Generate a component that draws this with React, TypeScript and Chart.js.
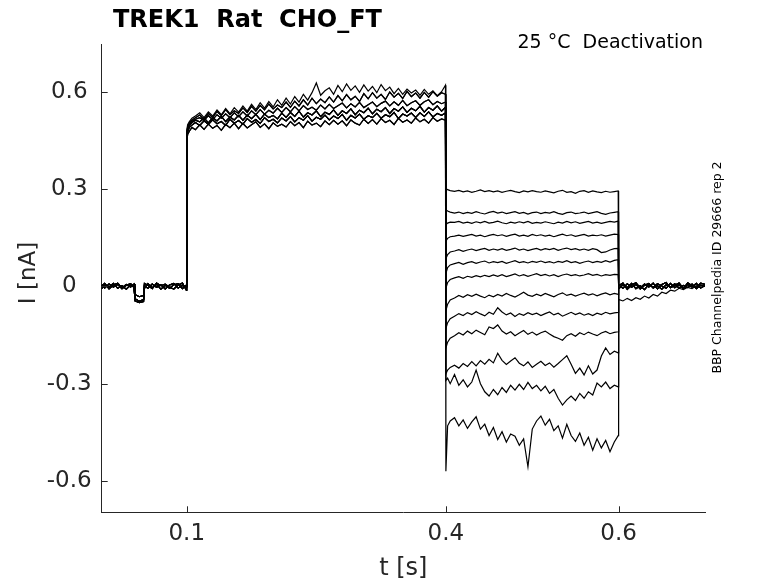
import { useEffect, useRef } from "react";
import { Chart, registerables } from "chart.js";

Chart.register(...registerables);

const TITLE = "TREK1  Rat  CHO_FT";
const SUBTITLE = "25 °C  Deactivation";
const SIDE_NOTE = "BBP Channelpedia ID 29666 rep 2";
const X_LABEL = "t [s]";
const Y_LABEL = "I [nA]";

const xTickValues = [0.1, 0.4, 0.6];
const yTickValues = [-0.6, -0.3, 0, 0.3, 0.6];
const X_MIN = 0.0015;
const X_MAX = 0.7;
const Y_MIN = -0.6965;
const Y_MAX = 0.747;

const AXIS_COLOR = "#262626";
const FONT = "DejaVu Sans";

// ---- sample times (s) ----
const preTimes = [0.0015, 0.005, 0.01, 0.015, 0.02, 0.025, 0.03, 0.035, 0.039, 0.04, 0.045, 0.05, 0.051, 0.055, 0.06, 0.065, 0.07, 0.075, 0.08, 0.085, 0.09, 0.095, 0.0995];
const actTimes = [
  0.1, 0.101, 0.103, 0.106, 0.11,
  0.115, 0.12, 0.125, 0.13, 0.135, 0.14, 0.145, 0.15, 0.155, 0.16,
  0.165, 0.17, 0.175, 0.18, 0.185, 0.19, 0.195, 0.2, 0.205, 0.21,
  0.215, 0.22, 0.225, 0.23, 0.235, 0.24, 0.245, 0.25, 0.255, 0.26,
  0.265, 0.27, 0.275, 0.28, 0.285, 0.29, 0.295, 0.3, 0.305, 0.31,
  0.315, 0.32, 0.325, 0.33, 0.335, 0.34, 0.345, 0.35, 0.355, 0.36,
  0.365, 0.37, 0.375, 0.38, 0.385, 0.39, 0.395,
  0.3995,
];
const tailTimes = [
  0.4, 0.402, 0.405,
  0.41, 0.415, 0.42, 0.425, 0.43, 0.435, 0.44, 0.445, 0.45, 0.455,
  0.46, 0.465, 0.47, 0.475, 0.48, 0.485, 0.49, 0.495, 0.5, 0.505,
  0.51, 0.515, 0.52, 0.525, 0.53, 0.535, 0.54, 0.545, 0.55, 0.555,
  0.56, 0.565, 0.57, 0.575, 0.58, 0.585, 0.59, 0.595,
  0.5995,
];
const postTimes = [0.6, 0.605, 0.61, 0.615, 0.62, 0.625, 0.63, 0.635, 0.64, 0.645, 0.65, 0.655, 0.66, 0.665, 0.67, 0.675, 0.68, 0.685, 0.69, 0.695, 0.7];

// ---- holding baseline (nA) ----
const pre1 = [0.004, -0.005, 0.007, -0.002, 0.006, -0.007, 0.003, 0.008, -0.004, -0.038, -0.046, -0.041, 0.002, -0.006, 0.007, -0.003, 0.005, -0.008, 0.004, 0.009, -0.005, 0.003, -0.002];
const pre2 = [-0.007, 0.006, -0.003, 0.009, -0.006, 0.002, -0.009, 0.005, 0.001, -0.045, -0.05, -0.047, -0.006, 0.008, -0.004, 0.006, -0.009, 0.003, -0.006, 0.005, 0.008, -0.007, 0.004];
const pre3 = [0.001, 0.009, -0.008, 0.004, 0.01, -0.004, 0.006, -0.002, 0.007, -0.025, -0.032, -0.028, 0.009, 0.003, -0.007, 0.01, 0.002, 0.007, -0.003, -0.008, 0.004, 0.01, -0.012];

// ---- activation step (nA) ----
const act1 = [
  0.44, 0.468, 0.478, 0.49, 0.483,
  0.498, 0.484, 0.5, 0.487, 0.496, 0.481, 0.499, 0.489, 0.503, 0.486,
  0.502, 0.488, 0.498, 0.507, 0.49, 0.501, 0.486, 0.504, 0.493, 0.5,
  0.491, 0.508, 0.495, 0.505, 0.489, 0.509, 0.497, 0.503, 0.492, 0.51,
  0.498, 0.512, 0.5, 0.51, 0.495, 0.513, 0.503, 0.497, 0.515, 0.502,
  0.514, 0.5, 0.517, 0.505, 0.512, 0.499, 0.518, 0.506, 0.513, 0.503,
  0.519, 0.507, 0.515, 0.503, 0.52, 0.509, 0.516,
  0.512,
];
const act2 = [
  0.45, 0.476, 0.49, 0.497, 0.505,
  0.496, 0.51, 0.499, 0.513, 0.501, 0.508, 0.496, 0.515, 0.503, 0.511,
  0.5, 0.517, 0.506, 0.514, 0.502, 0.52, 0.508, 0.515, 0.504, 0.519,
  0.51, 0.523, 0.507, 0.52, 0.512, 0.526, 0.509, 0.521, 0.515, 0.528,
  0.513, 0.525, 0.517, 0.53, 0.512, 0.527, 0.519, 0.531, 0.515, 0.526,
  0.52, 0.533, 0.518, 0.529, 0.523, 0.536, 0.517, 0.531, 0.525, 0.534,
  0.521, 0.535, 0.524, 0.538, 0.522, 0.533, 0.527,
  0.534,
];
const act3 = [
  0.46, 0.484, 0.496, 0.505, 0.512,
  0.507, 0.519, 0.504, 0.52, 0.51, 0.524, 0.508, 0.522, 0.513, 0.527,
  0.512, 0.528, 0.517, 0.53, 0.514, 0.531, 0.52, 0.527, 0.516, 0.534,
  0.521, 0.536, 0.524, 0.54, 0.522, 0.535, 0.528, 0.541, 0.523, 0.537,
  0.53, 0.544, 0.527, 0.541, 0.533, 0.547, 0.529, 0.543, 0.535, 0.549,
  0.532, 0.546, 0.538, 0.551, 0.533, 0.548, 0.54, 0.553, 0.536, 0.549,
  0.541, 0.555, 0.537, 0.551, 0.543, 0.556, 0.54,
  0.552,
];
const act4 = [
  0.465, 0.488, 0.5, 0.508, 0.515,
  0.52, 0.511, 0.526, 0.514, 0.529, 0.518, 0.532, 0.52, 0.535, 0.523,
  0.538, 0.525, 0.541, 0.529, 0.545, 0.531, 0.543, 0.534, 0.549, 0.536,
  0.551, 0.538, 0.554, 0.541, 0.557, 0.545, 0.552, 0.543, 0.559, 0.547,
  0.561, 0.548, 0.557, 0.565, 0.55, 0.563, 0.553, 0.567, 0.551, 0.56,
  0.568, 0.554, 0.564, 0.571, 0.556, 0.569, 0.558, 0.573, 0.557, 0.566,
  0.572, 0.558, 0.569, 0.575, 0.56, 0.57, 0.563,
  0.568,
];
const act5 = [
  0.47, 0.492, 0.503, 0.512, 0.52,
  0.528, 0.514, 0.533, 0.52, 0.539, 0.526, 0.545, 0.529, 0.541, 0.533,
  0.55, 0.536, 0.555, 0.54, 0.558, 0.544, 0.562, 0.547, 0.559, 0.551,
  0.568, 0.552, 0.571, 0.556, 0.575, 0.559, 0.58, 0.563, 0.577, 0.566,
  0.584, 0.568, 0.588, 0.572, 0.591, 0.575, 0.586, 0.57, 0.594, 0.578,
  0.597, 0.58, 0.592, 0.576, 0.599, 0.583, 0.595, 0.579, 0.601, 0.585,
  0.596, 0.58, 0.598, 0.583, 0.6, 0.586, 0.597,
  0.592,
];
const act6 = [
  0.48, 0.498, 0.508, 0.518, 0.525,
  0.535, 0.52, 0.538, 0.525, 0.544, 0.529, 0.548, 0.532, 0.551, 0.537,
  0.556, 0.54, 0.561, 0.545, 0.566, 0.549, 0.57, 0.553, 0.575, 0.558,
  0.58, 0.562, 0.585, 0.568, 0.592, 0.574, 0.597, 0.627, 0.589, 0.603,
  0.612, 0.592, 0.619, 0.6, 0.624, 0.604, 0.618, 0.598, 0.621, 0.602,
  0.616, 0.597, 0.622, 0.603, 0.614, 0.594, 0.61, 0.592, 0.608, 0.596,
  0.605, 0.589, 0.607, 0.592, 0.603, 0.588, 0.6,
  0.62,
];

// ---- deactivation tails (nA), one per sweep ----
const tail1 = [
  0.302, 0.298, 0.295,
  0.293, 0.296, 0.291, 0.294, 0.29, 0.293, 0.297, 0.292, 0.295, 0.291,
  0.294, 0.29, 0.293, 0.296, 0.292, 0.289, 0.294, 0.291, 0.295, 0.292,
  0.29, 0.294, 0.291, 0.288, 0.293, 0.296, 0.29, 0.292, 0.287, 0.293,
  0.295, 0.29, 0.294, 0.291, 0.289, 0.293, 0.29, 0.292,
  0.294,
];
const tail2 = [
  0.236, 0.232, 0.229,
  0.226, 0.229, 0.224, 0.228, 0.225, 0.23, 0.226, 0.223, 0.228, 0.231,
  0.226, 0.229, 0.224, 0.227, 0.23, 0.225, 0.228, 0.223, 0.227, 0.229,
  0.224, 0.228, 0.226, 0.23, 0.225, 0.222, 0.227, 0.229, 0.224, 0.226,
  0.229, 0.224, 0.227, 0.23, 0.225, 0.222, 0.226, 0.228,
  0.23,
];
const tail3 = [
  0.19, 0.195, 0.198,
  0.197, 0.2, 0.195, 0.198, 0.194, 0.199, 0.196, 0.2, 0.195, 0.197,
  0.201, 0.196, 0.193, 0.198, 0.195, 0.199, 0.196, 0.2, 0.194, 0.197,
  0.195, 0.199, 0.196, 0.193, 0.198, 0.195, 0.2, 0.196, 0.199, 0.194,
  0.197, 0.2, 0.195, 0.198, 0.194, 0.197, 0.2, 0.198,
  0.201,
];
const tail4 = [
  0.14, 0.148, 0.153,
  0.155, 0.158, 0.154, 0.157, 0.16, 0.155, 0.158, 0.153, 0.157, 0.16,
  0.156, 0.159, 0.154, 0.158, 0.161, 0.155, 0.158, 0.154, 0.16, 0.156,
  0.159, 0.155, 0.158, 0.153, 0.157, 0.161, 0.156, 0.159, 0.154, 0.157,
  0.16, 0.155, 0.158, 0.156, 0.159, 0.155, 0.158, 0.161,
  0.16,
];
const tail5 = [
  0.085, 0.098, 0.106,
  0.109, 0.113, 0.108, 0.112, 0.115, 0.11, 0.114, 0.117, 0.111, 0.115,
  0.112, 0.116, 0.111, 0.114, 0.118, 0.112, 0.115, 0.11, 0.114, 0.117,
  0.112, 0.116, 0.113, 0.117, 0.111, 0.115, 0.118, 0.113, 0.116, 0.112,
  0.115, 0.111, 0.116, 0.113, 0.104, 0.106, 0.112, 0.116,
  0.117,
];
const tail6 = [
  0.04, 0.058, 0.066,
  0.07, 0.074, 0.068, 0.073, 0.076, 0.071, 0.075, 0.078, 0.072, 0.076,
  0.073, 0.077, 0.071, 0.075, 0.079, 0.073, 0.076, 0.072, 0.077, 0.074,
  0.078, 0.073, 0.076, 0.072, 0.077, 0.074, 0.079, 0.073, 0.076, 0.071,
  0.075, 0.078, 0.073, 0.077, 0.074, 0.079, 0.075, 0.08,
  0.082,
];
const tail7 = [
  -0.005, 0.012, 0.021,
  0.026, 0.03, 0.025, 0.031, 0.028, 0.033, 0.029, 0.034, 0.03, 0.035,
  0.031, 0.036, 0.03, 0.034, 0.038, 0.032, 0.036, 0.031, 0.035, 0.039,
  0.033, 0.037, 0.032, 0.036, 0.03, 0.035, 0.038, 0.033, 0.036, 0.032,
  0.035, 0.039, 0.034, 0.037, 0.032, 0.036, 0.034, 0.037,
  0.036,
];
const tail8 = [
  -0.075, -0.055, -0.042,
  -0.036, -0.028, -0.034, -0.026, -0.031, -0.024, -0.03, -0.035, -0.027, -0.032,
  -0.025, -0.03, -0.022, -0.028, -0.033, -0.026, -0.018, -0.027, -0.031, -0.024,
  -0.029, -0.022, -0.027, -0.032, -0.025, -0.02, -0.028, -0.024, -0.03, -0.025,
  -0.021, -0.027, -0.023, -0.029, -0.024, -0.02, -0.026, -0.022,
  -0.025,
];
const tail9 = [
  -0.13, -0.112, -0.1,
  -0.092, -0.084, -0.09, -0.081, -0.087, -0.078, -0.085, -0.091, -0.08, -0.086,
  -0.066, -0.079, -0.088, -0.082, -0.093, -0.084, -0.089, -0.081, -0.087, -0.083,
  -0.09, -0.084, -0.079, -0.088, -0.083, -0.092, -0.086, -0.08, -0.087, -0.082,
  -0.089, -0.084, -0.09, -0.083, -0.087, -0.08, -0.085, -0.082,
  -0.08,
];
const tail10 = [
  -0.19, -0.172, -0.16,
  -0.152, -0.143, -0.15, -0.138, -0.146, -0.135, -0.142, -0.149, -0.125, -0.13,
  -0.119, -0.138, -0.147, -0.14, -0.152, -0.144, -0.136, -0.148, -0.141, -0.15,
  -0.143, -0.138, -0.147, -0.155, -0.16, -0.166, -0.152, -0.146, -0.154, -0.143,
  -0.149, -0.141, -0.147, -0.152, -0.144, -0.139, -0.146, -0.142,
  -0.14,
];
const tail11 = [
  -0.27, -0.258, -0.25,
  -0.243, -0.252, -0.238, -0.247, -0.232, -0.245, -0.229, -0.24, -0.225, -0.236,
  -0.206, -0.228, -0.241, -0.23, -0.22, -0.237, -0.245, -0.233, -0.25, -0.24,
  -0.231, -0.244, -0.236, -0.249, -0.238, -0.226, -0.214, -0.24, -0.268, -0.252,
  -0.273, -0.245, -0.27, -0.258, -0.215, -0.19, -0.21, -0.2,
  -0.205,
];
const tail12 = [
  -0.29, -0.283, -0.3,
  -0.272, -0.305, -0.288, -0.31, -0.295, -0.258, -0.3, -0.325, -0.338, -0.318,
  -0.334, -0.312, -0.327, -0.305, -0.32, -0.302, -0.318, -0.296, -0.315, -0.305,
  -0.322, -0.308, -0.33, -0.318, -0.345, -0.366, -0.35, -0.338, -0.352, -0.33,
  -0.345, -0.325, -0.335, -0.298, -0.31, -0.295, -0.315, -0.305,
  -0.31,
];
const tail13 = [
  -0.57, -0.43, -0.415,
  -0.405, -0.43, -0.412, -0.438, -0.418, -0.402, -0.44, -0.425, -0.46, -0.435,
  -0.472, -0.448, -0.48, -0.455, -0.462, -0.49, -0.47, -0.556, -0.44, -0.415,
  -0.4, -0.428, -0.41, -0.445, -0.43, -0.468, -0.425, -0.46, -0.478, -0.452,
  -0.49, -0.465, -0.505, -0.47, -0.498, -0.475, -0.51, -0.48,
  -0.46,
];

// ---- return to holding (nA) ----
const post1 = [0.004, -0.006, 0.008, -0.003, 0.006, -0.008, 0.003, 0.009, -0.005, 0.002, -0.009, 0.005, -0.002, 0.008, -0.006, 0.003, -0.004, 0.007, -0.007, 0.004, 0.001];
const post2 = [-0.008, 0.005, -0.004, 0.009, -0.007, 0.002, -0.01, 0.006, -0.003, 0.008, 0.001, -0.006, 0.009, -0.004, 0.005, -0.008, 0.006, -0.002, 0.009, -0.005, 0.003];
const post3 = [0.002, 0.01, -0.009, 0.004, 0.011, -0.005, 0.007, -0.002, 0.01, -0.008, 0.006, 0.012, -0.004, 0.003, 0.01, -0.007, 0.011, 0.002, -0.003, 0.01, 0.006];
const postSlow = [-0.04, -0.045, -0.037, -0.044, -0.035, -0.04, -0.03, -0.036, -0.025, -0.03, -0.018, -0.022, -0.012, -0.015, -0.006, -0.01, -0.003, -0.007, 0.002, -0.004, 0.001];

// ---- sweep composition ----
const sweepPre = [pre1, pre2, pre3, pre1, pre2, pre3, pre1, pre2, pre3, pre1, pre2, pre3, pre1];
const sweepAct = [act3, act1, act4, act2, act5, act3, act6, act2, act4, act1, act5, act3, act2];
const sweepTail = [tail1, tail2, tail3, tail4, tail5, tail6, tail7, tail8, tail9, tail10, tail11, tail12, tail13];
const sweepPost = [post1, post2, post3, post1, post2, post3, post1, post2, post3, post1, post2, post3, postSlow];

const decorPlugin = {
  id: "decor",
  afterDraw(chart: any) {
    const ctx = chart.ctx as CanvasRenderingContext2D;
    const { left, bottom } = chart.chartArea;
    const xs = chart.scales.x;
    const ys = chart.scales.y;
    ctx.save();
    // inward tick marks
    ctx.strokeStyle = AXIS_COLOR;
    ctx.lineWidth = 1;
    ctx.beginPath();
    for (const v of xTickValues) {
      const px = Math.round(xs.getPixelForValue(v)) + 0.5;
      ctx.moveTo(px, bottom);
      ctx.lineTo(px, bottom - 6);
    }
    for (const v of yTickValues) {
      const py = Math.round(ys.getPixelForValue(v)) + 0.5;
      ctx.moveTo(left, py);
      ctx.lineTo(left + 6, py);
    }
    ctx.stroke();

    // title
    ctx.fillStyle = "#000";
    ctx.textBaseline = "alphabetic";
    ctx.textAlign = "left";
    ctx.font = `bold 24px "${FONT}"`;
    ctx.fillText(TITLE, 113, 27);

    // subtitle
    ctx.textAlign = "right";
    ctx.font = `19px "${FONT}"`;
    ctx.fillText(SUBTITLE, 703, 48);

    // axis labels
    ctx.fillStyle = AXIS_COLOR;
    ctx.textAlign = "center";
    ctx.font = `24px "${FONT}"`;
    ctx.fillText(X_LABEL, (xs.left + xs.right) / 2, 575);
    ctx.save();
    ctx.translate(35, 273);
    ctx.rotate(-Math.PI / 2);
    ctx.font = `23px "${FONT}"`;
    ctx.fillText(Y_LABEL, 0, 0);
    ctx.restore();

    // side note
    ctx.fillStyle = "#000";
    ctx.font = `12.5px "${FONT}"`;
    ctx.save();
    ctx.translate(721, 267.5);
    ctx.rotate(-Math.PI / 2);
    ctx.fillText(SIDE_NOTE, 0, 0);
    ctx.restore();

    ctx.restore();
  },
};

export default function App() {
  const canvasRef = useRef<HTMLCanvasElement>(null);

  useEffect(() => {
    const datasets = sweepTail.map((tail, k) => ({
      data: [
        ...preTimes.map((t, j) => ({ x: t, y: sweepPre[k][j] })),
        ...actTimes.map((t, j) => ({ x: t, y: sweepAct[k][j] })),
        ...tailTimes.map((t, j) => ({ x: t, y: tail[j] })),
        ...postTimes.map((t, j) => ({ x: t, y: sweepPost[k][j] })),
      ],
      borderColor: "#000",
      borderWidth: 1.2,
      pointRadius: 0,
      fill: false,
      tension: 0,
    }));

    const chart = new Chart(canvasRef.current as HTMLCanvasElement, {
      type: "line",
      data: { datasets },
      options: {
        animation: false,
        responsive: true,
        maintainAspectRatio: false,
        events: [],
        layout: { padding: { top: 44, right: 73, left: 0, bottom: 0 } },
        plugins: {
          legend: { display: false },
          tooltip: { enabled: false },
          title: { display: false },
        },
        scales: {
          x: {
            type: "linear",
            min: X_MIN,
            max: X_MAX,
            afterBuildTicks: (s: any) => {
              s.ticks = xTickValues.map((v) => ({ value: v }));
            },
            afterFit: (s: any) => {
              s.height = 583 - 512.3;
            },
            grid: { display: false, drawTicks: false },
            border: { display: true, color: AXIS_COLOR, width: 1 },
            ticks: {
              color: AXIS_COLOR,
              font: { family: FONT, size: 23 },
              padding: 8,
              maxRotation: 0,
              autoSkip: false,
              callback: (v: any) => String(v),
            },
          },
          y: {
            type: "linear",
            min: Y_MIN,
            max: Y_MAX,
            afterBuildTicks: (s: any) => {
              s.ticks = yTickValues.map((v) => ({ value: v }));
            },
            afterFit: (s: any) => {
              s.width = 101.7;
            },
            grid: { display: false, drawTicks: false },
            border: { display: true, color: AXIS_COLOR, width: 1 },
            ticks: {
              color: AXIS_COLOR,
              font: { family: FONT, size: 23 },
              padding: 10,
              crossAlign: "center",
              autoSkip: false,
              callback: (v: any) => String(v),
            },
          },
        },
      },
      plugins: [decorPlugin],
    });
    return () => chart.destroy();
  }, []);

  return (
    <div style={{ position: "fixed", left: 0, top: 0, width: 778, height: 583 }}>
      <canvas ref={canvasRef} />
    </div>
  );
}
